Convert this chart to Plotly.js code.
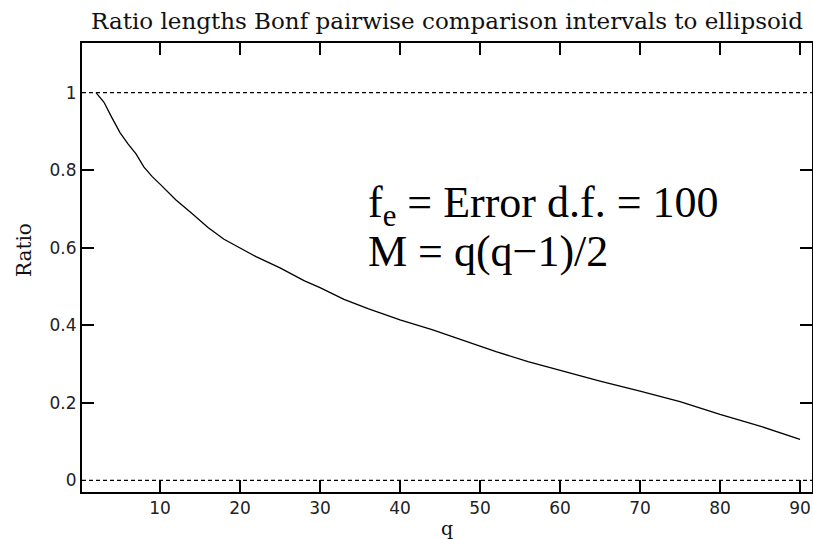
<!DOCTYPE html>
<html>
<head>
<meta charset="utf-8">
<script src="https://cdn.plot.ly/plotly-3.0.1.min.js"></script>
<style>html,body{margin:0;padding:0;background:#fff;}#chart{width:813px;height:539px;}</style>
</head>
<body>
<div id="chart"></div>
<script>
// Data
const qValues = [2, 3, 4, 5, 6, 7, 8, 9, 10, 12, 14, 16, 18, 20, 22, 25, 28, 30, 33, 36, 40, 44, 48, 52, 56, 60, 65, 70, 75, 80, 85, 90];
const ratioValues = [1.000, 0.975, 0.935, 0.897, 0.868, 0.842, 0.808, 0.784, 0.764, 0.723, 0.688, 0.652, 0.622, 0.600, 0.577, 0.548, 0.515, 0.497, 0.467, 0.443, 0.414, 0.389, 0.360, 0.332, 0.306, 0.283, 0.256, 0.230, 0.203, 0.170, 0.140, 0.106];
const refLines = [0, 1];
const xTicks = [10, 20, 30, 40, 50, 60, 70, 80, 90];
const yLabelVals = [0, 0.2, 0.4, 0.6, 0.8, 1];
const yLabelText = ['0', '0.2', '0.4', '0.6', '0.8', '1'];
const yTickMarks = [0.2, 0.4, 0.6, 0.8];
const titleText = 'Ratio lengths Bonf pairwise comparison intervals to ellipsoid';
const noteLines = ['f<sub>e</sub> = Error d.f. = 100', 'M = q(q\u22121)/2'];

const tickFont = {family: 'DejaVu Sans', size: 17, color: '#222'};
const serif = 'DejaVu Serif';

const traces = [{
  x: qValues, y: ratioValues, type: 'scatter', mode: 'lines',
  line: {color: '#000', width: 1.3}, hoverinfo: 'skip', showlegend: false
}, {
  x: [qValues[0]], y: [ratioValues[0]], yaxis: 'y2', type: 'scatter', mode: 'none',
  hoverinfo: 'skip', showlegend: false
}];

const yRange = [-0.030, 1.128];
const layout = {
  width: 813, height: 539,
  margin: {l: 82, r: 1, t: 43, b: 47},
  paper_bgcolor: '#fff', plot_bgcolor: '#fff',
  showlegend: false,
  title: {text: titleText, font: {family: serif, size: 23, color: '#111'}, x: 0.5, xref: 'paper', xanchor: 'center', y: 1 - 21/539, yref: 'container', yanchor: 'middle'},
  xaxis: {
    range: [0.25, 91.5], tickvals: xTicks, ticktext: xTicks.map(String),
    ticks: 'inside', ticklen: 12, tickwidth: 2, tickcolor: '#000',
    showline: true, linecolor: '#000', linewidth: 2, mirror: 'ticks',
    showgrid: false, zeroline: false, tickfont: tickFont
  },
  yaxis: {
    range: yRange, tickvals: yLabelVals, ticktext: yLabelText,
    ticks: '', showline: true, linecolor: '#000', linewidth: 2, mirror: true,
    showgrid: false, zeroline: false, tickfont: tickFont
  },
  yaxis2: {
    range: yRange, overlaying: 'y', side: 'left', tickvals: yTickMarks,
    showticklabels: false, ticks: 'inside', ticklen: 12, tickwidth: 2, tickcolor: '#000',
    mirror: 'ticks', showline: false, showgrid: false, zeroline: false
  },
  shapes: refLines.map(v => ({
    type: 'line', xref: 'paper', x0: 0, x1: 1, yref: 'y', y0: v, y1: v,
    line: {color: '#000', width: 1.2, dash: '4px,3px'}
  })),
  annotations: [
    {text: 'q', xref: 'paper', yref: 'paper', x: 0.5, y: -36/449, xanchor: 'center', yanchor: 'middle', showarrow: false, font: {family: serif, size: 19, color: '#111'}},
    {text: 'Ratio', xref: 'paper', yref: 'paper', x: -58/730, y: (492-250)/449, xanchor: 'center', yanchor: 'middle', textangle: -90, showarrow: false, font: {family: serif, size: 20, color: '#111'}},
    {text: noteLines[0], xref: 'x', yref: 'y', x: 35.8, y: 0.71, xanchor: 'left', yanchor: 'middle', showarrow: false, font: {family: 'Liberation Serif', size: 44, color: '#000'}},
    {text: noteLines[1], xref: 'x', yref: 'y', x: 35.8, y: 0.59, xanchor: 'left', yanchor: 'middle', showarrow: false, font: {family: 'Liberation Serif', size: 44, color: '#000'}}
  ]
};

Plotly.newPlot('chart', traces, layout, {staticPlot: true, displayModeBar: false});
</script>
</body>
</html>
